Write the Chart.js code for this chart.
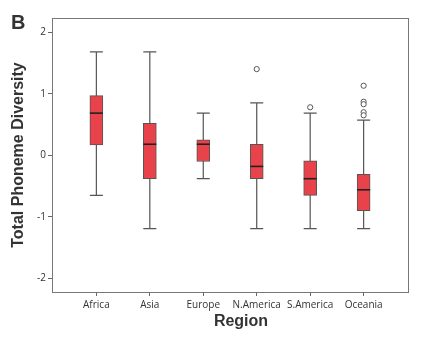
<!DOCTYPE html>
<html>
<head>
<meta charset="utf-8">
<script src="https://cdn.jsdelivr.net/npm/chart.js@4/dist/chart.umd.min.js"></script>
<style>
html,body{margin:0;padding:0;background:#fff;}
#wrap{width:434px;height:342px;position:relative;}
</style>
</head>
<body>
<div id="wrap"><canvas id="c" width="434" height="342"></canvas></div>
<script>
const categories = ['Africa', 'Asia', 'Europe', 'N.America', 'S.America', 'Oceania'];
const whiskerLow  = [-0.65, -1.19, -0.38, -1.19, -1.19, -1.19];
const q1          = [ 0.17, -0.38, -0.10, -0.38, -0.65, -0.90];
const medians     = [ 0.685, 0.18,  0.18, -0.18, -0.38, -0.56];
const q3          = [ 0.97,  0.52,  0.25,  0.18, -0.09, -0.31];
const whiskerHigh = [ 1.68,  1.68,  0.685, 0.85,  0.685, 0.57];
const outliers    = [[], [], [], [1.40], [0.78], [1.13, 0.87, 0.83, 0.70, 0.65]];
const yTicks = [-2, -1, 0, 1, 2];

const boxData = categories.map((c, i) => ({x: i, y: [q1[i], q3[i]]}));
const outlierData = [];
outliers.forEach((arr, i) => arr.forEach(v => outlierData.push({x: i, y: v})));

const LINE = '#555';
const BOX_W = 13;

const boxPlugin = {
  id: 'boxParts',
  beforeDatasetsDraw(chart) {
    const {ctx} = chart;
    const xs = chart.scales.x, ys = chart.scales.y;
    ctx.save();
    ctx.strokeStyle = LINE;
    ctx.lineWidth = 1.2;
    categories.forEach((c, i) => {
      const x = xs.getPixelForValue(i);
      const yl = ys.getPixelForValue(whiskerLow[i]);
      const yh = ys.getPixelForValue(whiskerHigh[i]);
      ctx.beginPath();
      ctx.moveTo(x, yl); ctx.lineTo(x, yh);
      ctx.moveTo(x - BOX_W / 2, yl); ctx.lineTo(x + BOX_W / 2, yl);
      ctx.moveTo(x - BOX_W / 2, yh); ctx.lineTo(x + BOX_W / 2, yh);
      ctx.stroke();
    });
    ctx.restore();
  },
  afterDatasetsDraw(chart) {
    const {ctx} = chart;
    const xs = chart.scales.x, ys = chart.scales.y;
    ctx.save();
    ctx.strokeStyle = '#222';
    ctx.lineWidth = 1.6;
    categories.forEach((c, i) => {
      const x = xs.getPixelForValue(i);
      const ym = ys.getPixelForValue(medians[i]);
      ctx.beginPath();
      ctx.moveTo(x - BOX_W / 2, ym); ctx.lineTo(x + BOX_W / 2, ym);
      ctx.stroke();
    });
    ctx.restore();
  },
  afterDraw(chart) {
    const {ctx, chartArea: a} = chart;
    ctx.save();
    ctx.strokeStyle = '#777';
    ctx.lineWidth = 1;
    ctx.strokeRect(Math.round(a.left) + 0.5, Math.round(a.top) + 0.5,
                   Math.round(a.right - a.left), Math.round(a.bottom - a.top));
    ctx.fillStyle = '#333';
    ctx.textAlign = 'center';
    ctx.textBaseline = 'middle';
    ctx.font = 'bold 16px "Liberation Sans", Arial, sans-serif';
    ctx.fillText('Region', 241, 322);
    ctx.textAlign = 'left';
    ctx.font = 'bold 20px "Liberation Sans", Arial, sans-serif';
    ctx.fillText('B', 11, 23);
    ctx.restore();
  }
};

new Chart(document.getElementById('c'), {
  type: 'bar',
  data: {
    datasets: [
      {
        type: 'bar',
        data: boxData,
        backgroundColor: '#e8424a',
        borderColor: LINE,
        borderWidth: 1,
        borderSkipped: false,
        barThickness: BOX_W,
        grouped: false
      },
      {
        type: 'scatter',
        data: outlierData,
        pointStyle: 'circle',
        pointRadius: 2.6,
        pointBackgroundColor: '#fff',
        pointBorderColor: LINE,
        pointBorderWidth: 1,
        showLine: false
      }
    ]
  },
  options: {
    responsive: false,
    animation: false,
    layout: {padding: {top: 18, right: 26, left: 0, bottom: 0}},
    plugins: {legend: {display: false}, tooltip: {enabled: false}},
    scales: {
      x: {
        type: 'linear',
        offset: false,
        min: -0.83,
        max: 5.83,
        afterBuildTicks: s => { s.ticks = categories.map((c, i) => ({value: i})); },
        afterFit: s => { s.height = 50; },
        ticks: {
          callback: v => categories[v],
          font: {family: '"Open Sans", sans-serif', size: 10},
          color: '#333',
          padding: 3,
          maxRotation: 0,
          autoSkip: false
        },
        grid: {display: true, offset: false, drawOnChartArea: false, drawTicks: true, tickLength: 4, color: '#666'},
        border: {display: false}
      },
      y: {
        type: 'linear',
        min: -2.22,
        max: 2.23,
        afterBuildTicks: s => { s.ticks = yTicks.map(v => ({value: v})); },
        afterFit: s => { s.width = 52; },
        ticks: {
          font: {family: '"Open Sans", sans-serif', size: 10},
          color: '#333',
          padding: 2
        },
        grid: {display: true, drawOnChartArea: false, drawTicks: true, tickLength: 4, color: '#666'},
        border: {display: false},
        title: {
          display: true,
          text: 'Total Phoneme Diversity',
          color: '#333',
          font: {family: '"Liberation Sans", Arial, sans-serif', size: 16, weight: 'bold'},
          padding: {top: 9, bottom: 0}
        }
      }
    }
  },
  plugins: [boxPlugin]
});
</script>
</body>
</html>
